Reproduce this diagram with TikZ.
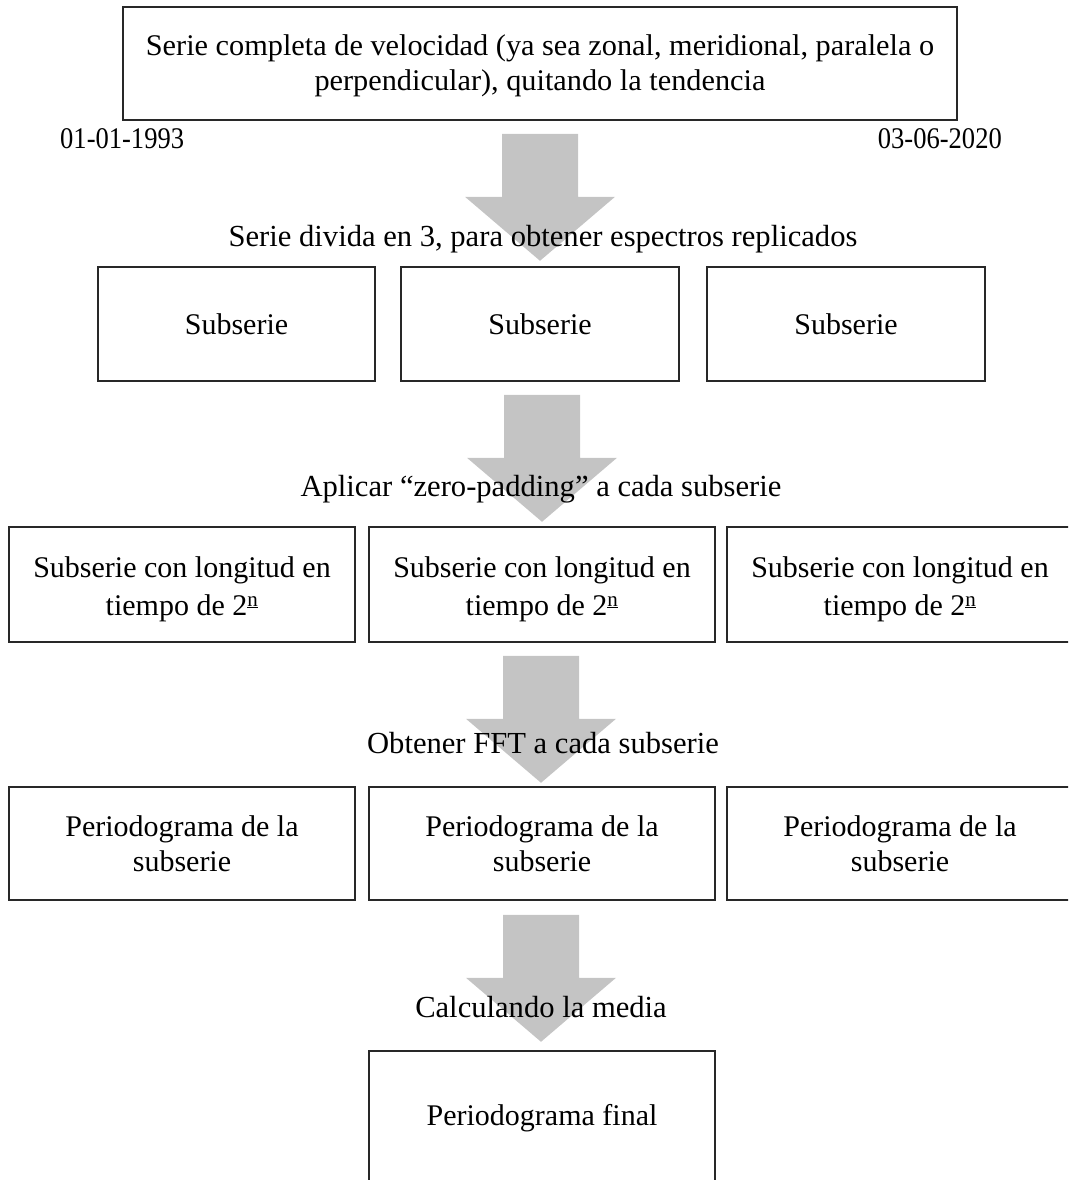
\documentclass[tikz,border=0pt]{standalone}
\usepackage{fontspec}
\setmainfont{Liberation Serif}
\usetikzlibrary{calc}
\definecolor{arrowgray}{RGB}{196,196,196}
\definecolor{boxline}{RGB}{40,40,40}
\tikzset{
  boxnode/.style={draw=boxline, line width=1.6pt, align=center, inner sep=0pt, fill=none},
  lbl/.style={inner sep=0pt, align=center},
  blockarr/.pic={\fill[arrowgray] (-38,0) -- (38,0) -- (38,63) -- (75,63) -- (0,127) -- (-75,63) -- (-38,63) -- cycle;}
}
\newcommand{\nsup}{\textsuperscript{\underline{n}}}
\newcommand{\up}[1]{\rule{0pt}{#1}}
\begin{document}
\begin{tikzpicture}[x=1pt,y=-1pt,font=\fontsize{30}{35.5}\selectfont]
\path[use as bounding box] (0,0) rectangle (1068,1180);
\clip (0,0) rectangle (1068,1180);
% top box
\node[boxnode, minimum width=834pt, minimum height=113pt] (top) at (540,63.5)
  {\up{25pt}\scalebox{1.01}[1]{Serie completa de velocidad (ya sea zonal, meridional, paralela o}\\
   \scalebox{1.01}[1]{perpendicular), quitando la tendencia}};
\node[lbl, anchor=west] (d1) at (60,139) {\scalebox{0.885}[1]{01-01-1993}};
\node[lbl, anchor=east] (d2) at (1002,139) {\scalebox{0.885}[1]{03-06-2020}};
% row 1
\node[boxnode, minimum width=277pt, minimum height=114pt] (s1) at (236.5,324) {Subserie};
\node[boxnode, minimum width=278pt, minimum height=114pt] (s2) at (540,324) {Subserie};
\node[boxnode, minimum width=278pt, minimum height=114pt] (s3) at (846,324) {Subserie};
% row 2
\node[boxnode, minimum width=346pt, minimum height=115pt] (z1) at (182,584.5) {\up{30pt}Subserie con longitud en\\[2pt]tiempo de 2\nsup};
\node[boxnode, minimum width=346pt, minimum height=115pt] (z2) at (542,584.5) {\up{30pt}Subserie con longitud en\\[2pt]tiempo de 2\nsup};
\node[boxnode, minimum width=346pt, minimum height=115pt] (z3) at (900,584.5) {\up{30pt}Subserie con longitud en\\[2pt]tiempo de 2\nsup};
% row 3
\node[boxnode, minimum width=346pt, minimum height=113pt] (p1) at (182,843.5) {Periodograma de la\\subserie};
\node[boxnode, minimum width=346pt, minimum height=113pt] (p2) at (542,843.5) {Periodograma de la\\subserie};
\node[boxnode, minimum width=346pt, minimum height=113pt] (p3) at (900,843.5) {Periodograma de la\\subserie};
% final
\node[boxnode, minimum width=346pt, minimum height=130pt] (fin) at (542,1116) {\up{25pt}Periodograma final};
% arrows
\path ($(top.south)+(0,13)$) pic {blockarr};
\path ($(s2.south)+(2,13)$) pic {blockarr};
\path ($(z2.south)+(-1,13)$) pic {blockarr};
\path ($(p2.south)+(-1,14)$) pic {blockarr};
% labels
\node[lbl, font=\fontsize{30.6}{36}\selectfont] (l1) at (543,239) {Serie divida en 3, para obtener espectros replicados};
\node[lbl, font=\fontsize{30.6}{36}\selectfont] (l2) at (541,489) {Aplicar “zero-padding” a cada subserie};
\node[lbl, font=\fontsize{30.6}{36}\selectfont] (l3) at (543,743) {Obtener FFT a cada subserie};
\node[lbl, font=\fontsize{30.6}{36}\selectfont] (l4) at (541,1007) {Calculando la media};
\end{tikzpicture}
\end{document}
